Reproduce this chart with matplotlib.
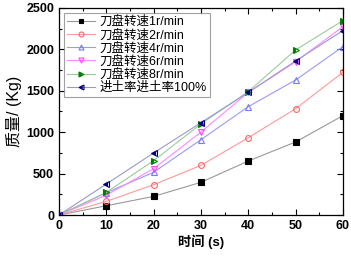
import matplotlib
matplotlib.use('Agg')
import matplotlib.pyplot as plt
from matplotlib.ticker import MultipleLocator

plt.rcParams['font.family'] = ['Liberation Sans', 'Noto Sans CJK SC', 'DejaVu Sans']

time_s = [0, 10, 20, 30, 40, 50, 60]
labels = ['刀盘转速1r/min', '刀盘转速2r/min', '刀盘转速4r/min',
          '刀盘转速6r/min', '刀盘转速8r/min', '进土率进土率100%']
mass_1r = [0, 112, 225, 395, 652, 882, 1200]
mass_2r = [0, 165, 366, 600, 933, 1284, 1723]
mass_4r = [0, 270, 516, 910, 1308, 1630, 2033]
mass_6r = [0, 240, 559, 1002, 1480, 1850, 2275]
mass_8r = [0, 274, 656, 1100, 1489, 1993, 2347]
mass_fill = [0, 374, 749, 1115, 1480, 1860, 2227]

series = [mass_1r, mass_2r, mass_4r, mass_6r, mass_8r, mass_fill]
line_colors = ['#999999', '#ff9999', '#9999ff', '#ff88ff', '#99cc99', '#9999cc']
marker_colors = ['black', '#ff6666', '#7777ff', '#ff44ff', 'green', 'navy']
markers = ['s', 'o', '^', 'v', '>', '<']
fills = ['full', 'none', 'none', 'none', 'left', 'left']

fig = plt.figure(figsize=(3.51, 2.56), dpi=100)
ax = fig.add_axes([0.168, 0.16, 0.809, 0.809])

for y, lab, lc, mc, m, fs in zip(series, labels, line_colors, marker_colors, markers, fills):
    ax.plot(time_s, y, color=lc, lw=0.8, marker=m, markersize=4.2,
            markerfacecolor=mc if fs != 'none' else 'none',
            markeredgecolor=mc, fillstyle=fs, markeredgewidth=0.8, label=lab)

ax.set_xlim(0, 60)
ax.set_ylim(0, 2500)
ax.xaxis.set_major_locator(MultipleLocator(10))
ax.xaxis.set_minor_locator(MultipleLocator(5))
ax.yaxis.set_major_locator(MultipleLocator(500))
ax.yaxis.set_minor_locator(MultipleLocator(250))
ax.tick_params(which='both', direction='in', top=True, right=True, width=0.8)
ax.tick_params(which='major', length=4, labelsize=9)
ax.tick_params(which='minor', length=2)
for t in ax.get_xticklabels() + ax.get_yticklabels():
    t.set_fontweight('bold')
for s in ax.spines.values():
    s.set_linewidth(0.9)

ax.set_xlabel('时间 (s)', fontsize=9.5, fontweight='bold', labelpad=2)
ax.set_ylabel('质量/ (Kg)', fontsize=11.5, labelpad=3)

leg = ax.legend(loc='upper left', fontsize=9, frameon=True, fancybox=False,
                edgecolor='#888888', handlelength=2.2, handletextpad=0.4,
                borderpad=0.25, labelspacing=0.08, borderaxespad=0.4,
                markerscale=0.85)
leg.get_frame().set_linewidth(0.8)

fig.savefig('out.png', dpi=100)
